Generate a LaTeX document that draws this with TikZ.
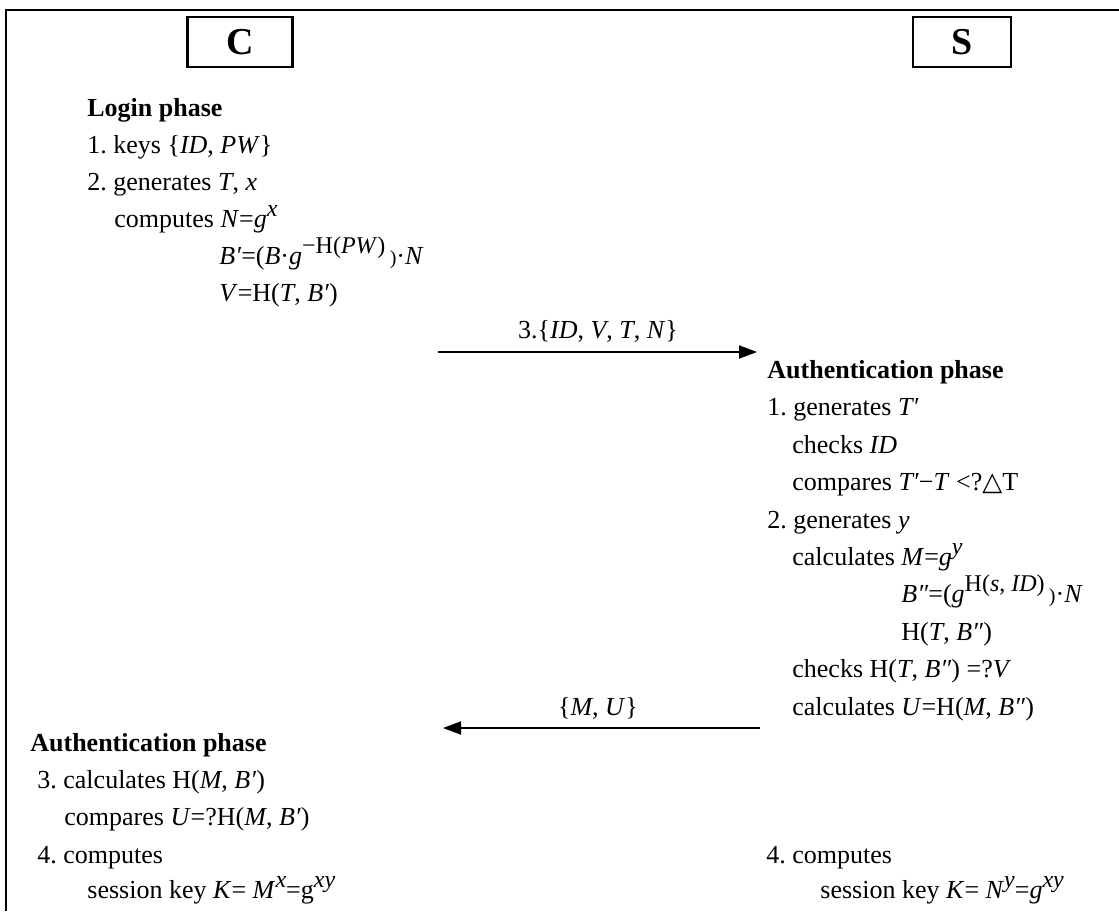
\documentclass[tikz,border=0pt]{standalone}
\usepackage{fontspec}
\setmainfont{Liberation Serif}
\newfontfamily\symfont{DejaVu Serif}
\usetikzlibrary{arrows.meta}
\frenchspacing
\newcommand{\sups}[1]{\raisebox{0.42em}{\fontsize{12}{12}\selectfont #1}}
\newcommand{\smp}[1]{{\fontsize{10}{10}\selectfont #1}}
\newcommand{\tri}{{\symfont △}}
\begin{document}
\begin{tikzpicture}[x=0.5pt,y=-0.5pt,
  txt/.style={anchor=base west,inner sep=0pt,font=\fontsize{13}{15}\selectfont},
  lbl/.style={anchor=base,inner sep=0pt,font=\fontsize{13}{15}\selectfont},
  actor/.style={draw,line width=1.1pt,inner sep=0pt,font=\fontsize{19}{20}\selectfont\bfseries},
  msg/.style={line width=1pt,-{Triangle[length=9pt,width=6.5pt]}},
  frame/.style={line width=1.3pt}]
\useasboundingbox (0,0) rectangle (1119,911);
% frame
\coordinate (f1) at (6,911);
\coordinate (f2) at (6,10);
\coordinate (f3) at (1119,10);
\draw[frame] (f1) -- (f2) -- (f3);
% actors
\node[actor,minimum width=52.5pt,minimum height=25pt] (C) at (240,42) {C};
\node[actor,minimum width=49pt,minimum height=25pt] (S) at (962,42) {S};
% client login
\node[txt] (l0) at (87,116) {\textbf{Login phase}};
\node[txt] (l1) at (87,153) {1. keys \{\textit{ID}, \textit{PW}\}};
\node[txt] (l2) at (87,190) {2. generates \textit{T}, \textit{x}};
\node[txt] (l3) at (114,227) {computes \textit{N}=\textit{g}\sups{\textit{x}}};
\node[txt] (l4) at (219,264) {\textit{B′}=(\textit{B}·\textit{g}\sups{−H(\textit{PW})}\,\smp{)}·\textit{N}};
\node[txt] (l5) at (219,301) {\textit{V}=H(\textit{T}, \textit{B′})};
% message 1
\coordinate (m1s) at (438,352);
\coordinate (m1e) at (757,352);
\draw[msg] (m1s) -- (m1e);
\node[lbl] (m1) at (598,338) {3.\{\textit{ID}, \textit{V}, \textit{T}, \textit{N}\}};
% server
\node[txt] (r0) at (767,378) {\textbf{Authentication phase}};
\node[txt] (r1) at (767,415) {1. generates \textit{T′}};
\node[txt] (r2) at (792,453) {checks \textit{ID}};
\node[txt] (r3) at (792,490) {compares \textit{T′}−\textit{T} <?\tri T};
\node[txt] (r4) at (767,528) {2. generates \textit{y}};
\node[txt] (r5) at (792,565) {calculates \textit{M}=\textit{g}\sups{\textit{y}}};
\node[txt] (r6) at (901,602) {\textit{B″}=(\textit{g}\sups{H(\textit{s}, \textit{ID})}\,\smp{)}·\textit{N}};
\node[txt] (r7) at (901,640) {H(\textit{T}, \textit{B″})};
\node[txt] (r8) at (792,677) {checks H(\textit{T}, \textit{B″}) =?\textit{V}};
\node[txt] (r9) at (792,715) {calculates \textit{U}=H(\textit{M}, \textit{B″})};
% message 2
\coordinate (m2s) at (760,728);
\coordinate (m2e) at (443,728);
\draw[msg] (m2s) -- (m2e);
\node[lbl] (m2) at (598,715) {\{\textit{M}, \textit{U}\}};
% client auth
\node[txt] (c0) at (30,751) {\textbf{Authentication phase}};
\node[txt] (c1) at (37,788) {3. calculates H(\textit{M}, \textit{B′})};
\node[txt] (c2) at (64,825) {compares \textit{U}=?H(\textit{M}, \textit{B′})};
\node[txt] (c3) at (37,863) {4. computes};
\node[txt] (c4) at (87,898) {session key \textit{K}= \textit{M}\sups{\textit{x}}=g\sups{\textit{xy}}};
% server key
\node[txt] (s3) at (766,863) {4. computes};
\node[txt] (s4) at (820,898) {session key \textit{K}= \textit{N}\sups{\textit{y}}=\textit{g}\sups{\textit{xy}}};
\end{tikzpicture}
\end{document}
